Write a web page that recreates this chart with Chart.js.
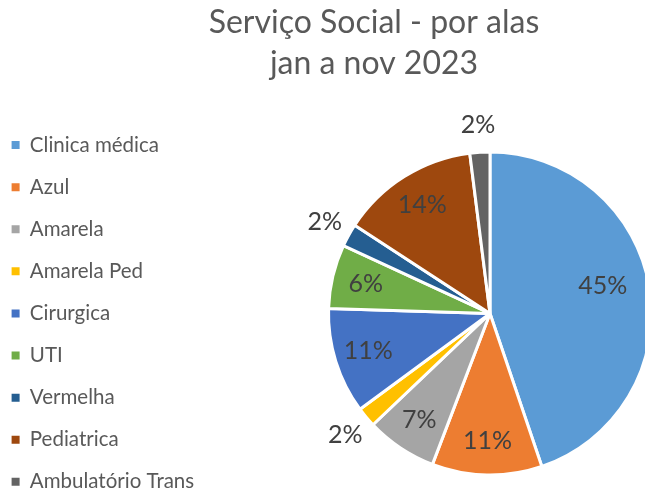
<!DOCTYPE html>
<html><head><meta charset="utf-8">
<script src="https://cdn.jsdelivr.net/npm/chart.js@4.4.0/dist/chart.umd.min.js"></script>
<style>
html,body{margin:0;padding:0;overflow:hidden;background:#fff;width:645px;height:489px;}
#wrap{position:absolute;left:-10px;top:0;width:900px;height:532px;}
canvas{display:block;}
</style></head><body>
<div id="wrap"><canvas id="c" width="772" height="532" style="width:772px;height:532px"></canvas></div>
<script>
const categories = ["Clinica médica","Azul","Amarela","Amarela Ped","Cirurgica","UTI","Vermelha","Pediatrica","Ambulatório Trans"];
const values = [44.8, 11.0, 7.1, 2.0, 10.6, 6.4, 2.3, 13.8, 2.0];
const colors = ["#5B9BD5","#ED7D31","#A5A5A5","#FFC000","#4472C4","#70AD47","#255E91","#9E480E","#636363"];
const titleLines = ["Serviço Social - por alas","jan a nov 2023"];

const WRAP_OFFSET = -10;   // css left of the canvas
const PIE_CENTER_X = 490;  // page x of pie centre
const TITLE_CENTER_X = 374; // page x of title centre
const CANVAS_H = 532;

Chart.defaults.font.family = "Lato, 'DejaVu Sans', sans-serif";

// invisible layout spacer between legend and pie
let gapW = 0;
const legendGap = {
  id: 'legendGap',
  beforeInit(chart) {
    Chart.layouts.addBox(chart, {
      position: 'left', weight: 500, fullSize: false, options: { display: false },
      top: 0, left: 0, right: 0, bottom: 0, width: 0, height: 0,
      isHorizontal() { return false; },
      update(maxWidth, maxHeight) { this.width = gapW; this.height = maxHeight; },
      draw() {}
    });
  }
};

const pctLabels = {
  id: 'pctLabels',
  afterDatasetsDraw(chart) {
    const ctx = chart.ctx;
    const meta = chart.getDatasetMeta(0);
    const data = chart.data.datasets[0].data;
    const total = data.reduce((a, b) => a + b, 0);
    ctx.save();
    ctx.font = "25px Lato, 'DejaVu Sans', sans-serif";
    ctx.fillStyle = '#404040';
    ctx.textAlign = 'center';
    ctx.textBaseline = 'middle';
    meta.data.forEach((arc, i) => {
      const p = data[i] / total * 100;
      const {x, y, startAngle, endAngle, outerRadius} = arc.getProps(['x','y','startAngle','endAngle','outerRadius'], true);
      let mid = (startAngle + endAngle) / 2;
      let f = p < 4 ? 1.17 : 0.79;
      if (p > 30) { f = 0.72; mid -= 0.08; }
      ctx.fillText(Math.round(p) + '%', x + Math.cos(mid) * outerRadius * f, y + Math.sin(mid) * outerRadius * f);
    });
    ctx.restore();
  }
};

const chart = new Chart(document.getElementById('c'), {
  type: 'pie',
  data: {
    labels: categories,
    datasets: [{
      data: values,
      backgroundColor: colors,
      borderColor: '#ffffff',
      borderWidth: 3,
      radius: 161.5
    }]
  },
  options: {
    responsive: false,
    maintainAspectRatio: false,
    animation: false,
    devicePixelRatio: 1,
    layout: { padding: 0 },
    plugins: {
      tooltip: { enabled: false },
      title: {
        display: true,
        text: titleLines,
        color: '#595959',
        font: { size: 32, weight: 'normal', lineHeight: 1.28 },
        padding: { top: 2, bottom: 11 }
      },
      legend: {
        position: 'left',
        fullSize: false,
        align: 'center',
        labels: {
          boxWidth: 8,
          boxHeight: 8,
          padding: 21.6,
          color: '#595959',
          font: { size: 20.5 },
          generateLabels(chart) {
            const items = Chart.overrides.pie.plugins.legend.labels.generateLabels(chart);
            items.forEach(it => { it.lineWidth = 0; it.strokeStyle = it.fillStyle; it.fontColor = '#595959'; });
            return items;
          }
        }
      }
    }
  },
  plugins: [legendGap, pctLabels]
});

// size the canvas so the pie centre and the title centre land where the reference has them
const lw = chart.legend.width;
gapW = Math.max(0, 2 * (PIE_CENTER_X - TITLE_CENTER_X) - lw);
const newW = Math.round(2 * (PIE_CENTER_X - WRAP_OFFSET) - lw - gapW);
chart.resize(newW, CANVAS_H);
</script>
</body></html>
